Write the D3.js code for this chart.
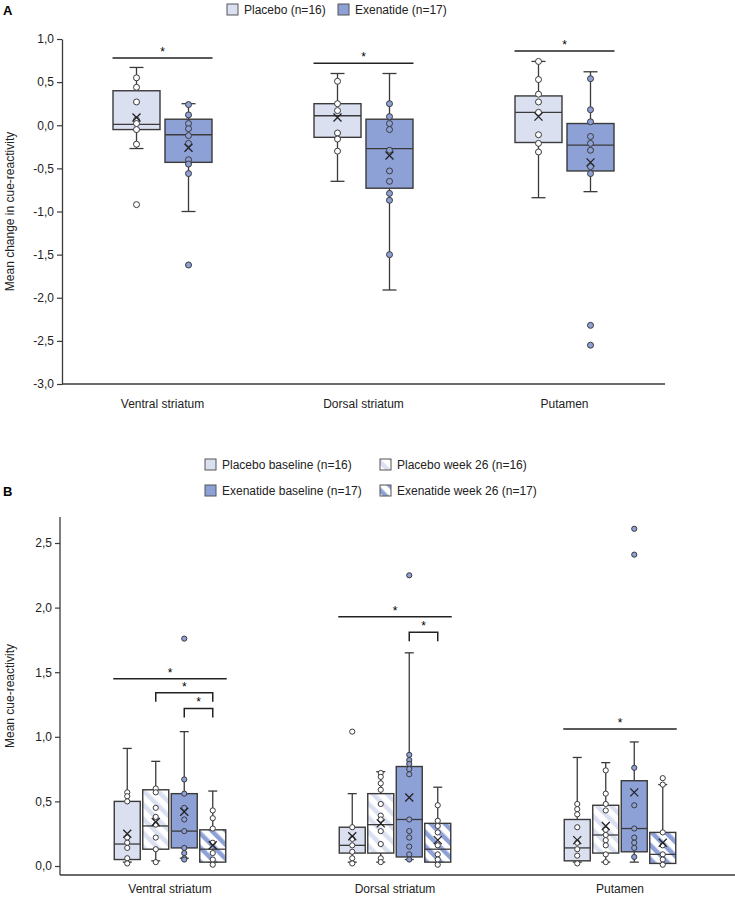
<!DOCTYPE html>
<html><head><meta charset="utf-8">
<script src="https://cdn.jsdelivr.net/npm/d3@7"></script>
<style>
body{margin:0;background:#fff;}
svg{display:block;font-family:"Liberation Sans",Arial,sans-serif;}
</style></head>
<body>
<svg id="chart" width="735" height="899"></svg>
<script>
// ---------- DATA ----------
const categories = ["Ventral striatum", "Dorsal striatum", "Putamen"];
const yTicksA = [-3, -2.5, -2, -1.5, -1, -0.5, 0, 0.5, 1];
const yTicksB = [0, 0.5, 1, 1.5, 2, 2.5];

// Panel A: stats per category = [whiskerLow, q1, median, q3, whiskerHigh, mean]
const seriesA = ["Placebo (n=16)", "Exenatide (n=17)"];
const placeboChangeStats = [[-0.27, -0.05, 0.01, 0.40, 0.67, 0.09], [-0.65, -0.14, 0.11, 0.25, 0.60, 0.09], [-0.84, -0.20, 0.15, 0.34, 0.74, 0.10]];
const exenatideChangeStats = [[-1.00, -0.43, -0.11, 0.07, 0.25, -0.26], [-1.91, -0.73, -0.27, 0.07, 0.60, -0.35], [-0.77, -0.53, -0.23, 0.02, 0.62, -0.43]];
const placeboChangePoints = [[0.55, 0.44, 0.27, 0.06, 0.02, -0.05, -0.22], [0.51, 0.25, 0.17, -0.09, -0.16, -0.30], [0.74, 0.53, 0.36, 0.27, 0.15, -0.11, -0.21, -0.31]];
const exenatideChangePoints = [[0.24, 0.12, 0.02, -0.04, -0.12, -0.21, -0.40, -0.45, -0.56], [0.25, 0.10, 0.02, -0.05, -0.29, -0.53, -0.65, -0.79, -0.87, -1.50], [0.54, 0.18, 0.04, -0.13, -0.21, -0.29, -0.48, -0.56]];
const placeboChangeOutliers = [[-0.92], [], []];
const exenatideChangeOutliers = [[-1.62], [], [-2.32, -2.55]];
// significance bars A: [categoryIndex, fromSeries, toSeries, y]
const sigA = [[0, 0, 1, 0.78], [1, 0, 1, 0.72], [2, 0, 1, 0.86]];

// Panel B
const seriesB = ["Placebo baseline (n=16)", "Placebo week 26 (n=16)", "Exenatide baseline (n=17)", "Exenatide week 26 (n=17)"];
const placeboBaseStats = [[0.03, 0.05, 0.17, 0.50, 0.91, 0.25], [0.03, 0.10, 0.16, 0.30, 0.56, 0.23], [0.03, 0.04, 0.14, 0.36, 0.84, 0.20]];
const placeboWk26Stats = [[0.04, 0.13, 0.31, 0.59, 0.81, 0.34], [0.03, 0.10, 0.32, 0.56, 0.73, 0.33], [0.03, 0.10, 0.24, 0.47, 0.80, 0.31]];
const exenatideBaseStats = [[0.06, 0.14, 0.27, 0.56, 1.04, 0.42], [0.05, 0.07, 0.36, 0.77, 1.65, 0.53], [0.03, 0.11, 0.29, 0.66, 0.96, 0.57]];
const exenatideWk26Stats = [[0.03, 0.03, 0.13, 0.28, 0.58, 0.16], [0.03, 0.03, 0.13, 0.33, 0.61, 0.20], [0.02, 0.02, 0.09, 0.26, 0.63, 0.18]];
const placeboBasePoints = [[0.57, 0.54, 0.50, 0.22, 0.18, 0.14, 0.06, 0.02], [0.30, 0.21, 0.16, 0.11, 0.06, 0.02], [0.48, 0.44, 0.40, 0.30, 0.18, 0.13, 0.08, 0.02]];
const placeboWk26Points = [[0.60, 0.57, 0.45, 0.38, 0.32, 0.22, 0.13, 0.03], [0.72, 0.69, 0.64, 0.59, 0.48, 0.39, 0.36, 0.27, 0.17, 0.06, 0.03], [0.74, 0.56, 0.48, 0.43, 0.28, 0.24, 0.20, 0.16, 0.09, 0.03]];
const exenatideBasePoints = [[0.67, 0.56, 0.45, 0.36, 0.27, 0.14, 0.10, 0.06, 0.05], [0.86, 0.82, 0.79, 0.75, 0.71, 0.36, 0.27, 0.22, 0.15, 0.09, 0.05], [0.76, 0.47, 0.29, 0.22, 0.18, 0.14, 0.07]];
const exenatideWk26Points = [[0.43, 0.37, 0.29, 0.18, 0.10, 0.05, 0.01], [0.47, 0.35, 0.31, 0.26, 0.16, 0.09, 0.05, 0.01], [0.63, 0.26, 0.16, 0.09, 0.05, 0.01]];
const placeboBaseOutliers = [[], [1.04], []];
const placeboWk26Outliers = [[], [], []];
const exenatideBaseOutliers = [[1.76], [2.25], [2.61, 2.41]];
const exenatideWk26Outliers = [[], [], [0.68]];
// significance B: [categoryIndex, fromSeries, toSeries, y, bracket(0 = full line,1 = bracket)]
const sigB = [[0, 0, 3, 1.45, 0], [0, 1, 3, 1.34, 1], [0, 2, 3, 1.22, 1], [1, 0, 3, 1.93, 0], [1, 2, 3, 1.81, 1], [2, 0, 3, 1.06, 0]];

// ---------- STYLE ----------
const C_PLAC = "#dbe0f1", C_EXEN = "#8ea1d7", C_LINE = "#3a3a3a";
const fmt = d3.formatLocale({decimal: ",", thousands: ".", grouping: [3], currency: ["", ""], minus: "-"}).format(".1f");

const svg = d3.select("#chart");
const defs = svg.append("defs");
function hatch(id, color) {
  const p = defs.append("pattern").attr("id", id).attr("patternUnits", "userSpaceOnUse")
    .attr("width", 10).attr("height", 10).attr("patternTransform", "rotate(-45)");
  p.append("rect").attr("width", 10).attr("height", 10).attr("fill", "#fff");
  p.append("rect").attr("width", 4.5).attr("height", 10).attr("fill", color);
}
hatch("hatchP", C_PLAC);
hatch("hatchE", C_EXEN);

function drawBox(g, cx, w, capW, s, fill, ptFill, pts, outs, y, r) {
  const [lo, q1, med, q3, hi, mean] = s;
  g.append("line").attr("x1", cx).attr("x2", cx).attr("y1", y(hi)).attr("y2", y(q3)).attr("stroke", C_LINE).attr("stroke-width", 1.3);
  g.append("line").attr("x1", cx).attr("x2", cx).attr("y1", y(q1)).attr("y2", y(lo)).attr("stroke", C_LINE).attr("stroke-width", 1.3);
  [hi, lo].forEach(v => g.append("line").attr("x1", cx - capW / 2).attr("x2", cx + capW / 2).attr("y1", y(v)).attr("y2", y(v)).attr("stroke", C_LINE).attr("stroke-width", 1.3));
  g.append("rect").attr("x", cx - w / 2).attr("y", y(q3)).attr("width", w).attr("height", y(q1) - y(q3))
    .attr("fill", fill).attr("stroke", C_LINE).attr("stroke-width", 1.4);
  g.append("line").attr("x1", cx - w / 2).attr("x2", cx + w / 2).attr("y1", y(med)).attr("y2", y(med)).attr("stroke", C_LINE).attr("stroke-width", 1.3);
  pts.concat(outs).forEach(v => g.append("circle").attr("cx", cx).attr("cy", y(v)).attr("r", r)
    .attr("fill", ptFill).attr("stroke", C_LINE).attr("stroke-width", 1));
  const m = 4, my = y(mean);
  g.append("path").attr("d", `M${cx - m},${my - m}L${cx + m},${my + m}M${cx + m},${my - m}L${cx - m},${my + m}`)
    .attr("stroke", "#222").attr("stroke-width", 1.3);
}

function legendItem(x, yc, fill, text) {
  svg.append("rect").attr("x", x).attr("y", yc - 6).attr("width", 11).attr("height", 11)
    .attr("fill", fill).attr("stroke", "#555").attr("stroke-width", 1);
  svg.append("text").attr("x", x + 17).attr("y", yc).attr("dy", "0.35em").attr("font-size", 12).attr("fill", "#222").text(text);
}

// ---------- PANEL A ----------
const yA = d3.scaleLinear().domain([-3, 1]).range([384, 39]);
const xA = d3.scaleBand().domain(categories).range([62, 665]);
svg.append("text").attr("x", 3).attr("y", 15).attr("font-size", 13).attr("font-weight", "bold").text("A");
legendItem(227, 10, C_PLAC, seriesA[0]);
legendItem(338, 10, C_EXEN, seriesA[1]);

const axA = svg.append("g").attr("transform", "translate(62,0)")
  .call(d3.axisLeft(yA).tickValues(yTicksA).tickFormat(fmt).tickSize(5).tickSizeOuter(0));
axA.select(".domain").attr("stroke", C_LINE).attr("stroke-width", 1.3);
axA.selectAll(".tick line").attr("stroke", C_LINE).attr("stroke-width", 1.2);
axA.selectAll(".tick text").attr("font-size", 12).attr("fill", "#222").attr("font-family", "Liberation Sans, Arial, sans-serif");
svg.append("line").attr("x1", 62).attr("x2", 665).attr("y1", yA(-3)).attr("y2", yA(-3)).attr("stroke", C_LINE).attr("stroke-width", 1.5);
svg.append("g").selectAll("text").data(categories).join("text")
  .attr("x", d => xA(d) + xA.bandwidth() / 2).attr("y", yA(-3) + 24).attr("text-anchor", "middle")
  .attr("font-size", 12).attr("fill", "#222").text(d => d);
svg.append("text").attr("transform", `translate(14,${(yA(1) + yA(-3)) / 2}) rotate(-90)`).attr("text-anchor", "middle")
  .attr("font-size", 12).attr("fill", "#222").text("Mean change in cue-reactivity");

const offA = [-26, 26];
const gA = svg.append("g");
categories.forEach((c, i) => {
  const cx0 = xA(c) + xA.bandwidth() / 2;
  drawBox(gA, cx0 + offA[0], 47, 14, placeboChangeStats[i], C_PLAC, "#fff", placeboChangePoints[i], placeboChangeOutliers[i], yA, 3);
  drawBox(gA, cx0 + offA[1], 47, 14, exenatideChangeStats[i], C_EXEN, C_EXEN, exenatideChangePoints[i], exenatideChangeOutliers[i], yA, 3);
});
sigA.forEach(([ci, a, b, v]) => {
  const cx0 = xA(categories[ci]) + xA.bandwidth() / 2;
  const x1 = cx0 + offA[a] - 24, x2 = cx0 + offA[b] + 24;
  svg.append("line").attr("x1", x1).attr("x2", x2).attr("y1", yA(v)).attr("y2", yA(v)).attr("stroke", "#222").attr("stroke-width", 1.5);
  svg.append("text").attr("x", (x1 + x2) / 2).attr("y", yA(v) - 2).attr("text-anchor", "middle").attr("font-size", 12).text("*");
});

// ---------- PANEL B ----------
const yB = d3.scaleLinear().domain([0, 2.5]).range([866, 543]);
const xB = d3.scaleBand().domain(categories).range([57.5, 732.5]);
svg.append("text").attr("x", 3).attr("y", 496).attr("font-size", 13).attr("font-weight", "bold").text("B");
legendItem(205, 465, C_PLAC, seriesB[0]);
legendItem(380, 465, "url(#hatchP)", seriesB[1]);
legendItem(205, 491, C_EXEN, seriesB[2]);
legendItem(380, 491, "url(#hatchE)", seriesB[3]);

const axB = svg.append("g").attr("transform", "translate(60,0)")
  .call(d3.axisLeft(yB).tickValues(yTicksB).tickFormat(fmt).tickSize(5).tickSizeOuter(0));
axB.select(".domain").remove();
axB.selectAll(".tick line").attr("stroke", C_LINE).attr("stroke-width", 1.2);
axB.selectAll(".tick text").attr("font-size", 12).attr("fill", "#222").attr("font-family", "Liberation Sans, Arial, sans-serif");
svg.append("line").attr("x1", 60).attr("x2", 60).attr("y1", 517).attr("y2", 875).attr("stroke", C_LINE).attr("stroke-width", 1.3);
svg.append("line").attr("x1", 60).attr("x2", 735).attr("y1", 875).attr("y2", 875).attr("stroke", C_LINE).attr("stroke-width", 1.5);
svg.append("g").selectAll("text").data(categories).join("text")
  .attr("x", d => xB(d) + xB.bandwidth() / 2).attr("y", 893).attr("text-anchor", "middle")
  .attr("font-size", 12).attr("fill", "#222").text(d => d);
svg.append("text").attr("transform", `translate(14,${(517 + 875) / 2}) rotate(-90)`).attr("text-anchor", "middle")
  .attr("font-size", 12).attr("fill", "#222").text("Mean cue-reactivity");

const offB = [-42.75, -14.25, 14.25, 42.75];
const statsB = [placeboBaseStats, placeboWk26Stats, exenatideBaseStats, exenatideWk26Stats];
const ptsB = [placeboBasePoints, placeboWk26Points, exenatideBasePoints, exenatideWk26Points];
const outsB = [placeboBaseOutliers, placeboWk26Outliers, exenatideBaseOutliers, exenatideWk26Outliers];
const fillsB = [C_PLAC, "url(#hatchP)", C_EXEN, "url(#hatchE)"];
const ptFillB = ["#fff", "#fff", C_EXEN, "#fff"];
const gB = svg.append("g");
categories.forEach((c, i) => {
  const cx0 = xB(c) + xB.bandwidth() / 2;
  for (let s = 0; s < 4; s++) {
    drawBox(gB, cx0 + offB[s], 26, 9, statsB[s][i], fillsB[s], ptFillB[s], ptsB[s][i], outsB[s][i], yB, 2.6);
  }
});
sigB.forEach(([ci, a, b, v, br]) => {
  const cx0 = xB(categories[ci]) + xB.bandwidth() / 2;
  let x1, x2;
  if (br) { x1 = cx0 + offB[a]; x2 = cx0 + offB[b]; }
  else { x1 = cx0 + offB[a] - 14; x2 = cx0 + offB[b] + 14; }
  const yy = yB(v);
  if (br) {
    svg.append("path").attr("d", `M${x1},${yy + 9}V${yy}H${x2}V${yy + 9}`).attr("fill", "none").attr("stroke", "#222").attr("stroke-width", 1.5);
  } else {
    svg.append("line").attr("x1", x1).attr("x2", x2).attr("y1", yy).attr("y2", yy).attr("stroke", "#222").attr("stroke-width", 1.5);
  }
  svg.append("text").attr("x", (x1 + x2) / 2).attr("y", yy - 2).attr("text-anchor", "middle").attr("font-size", 12).text("*");
});
</script>
</body></html>
